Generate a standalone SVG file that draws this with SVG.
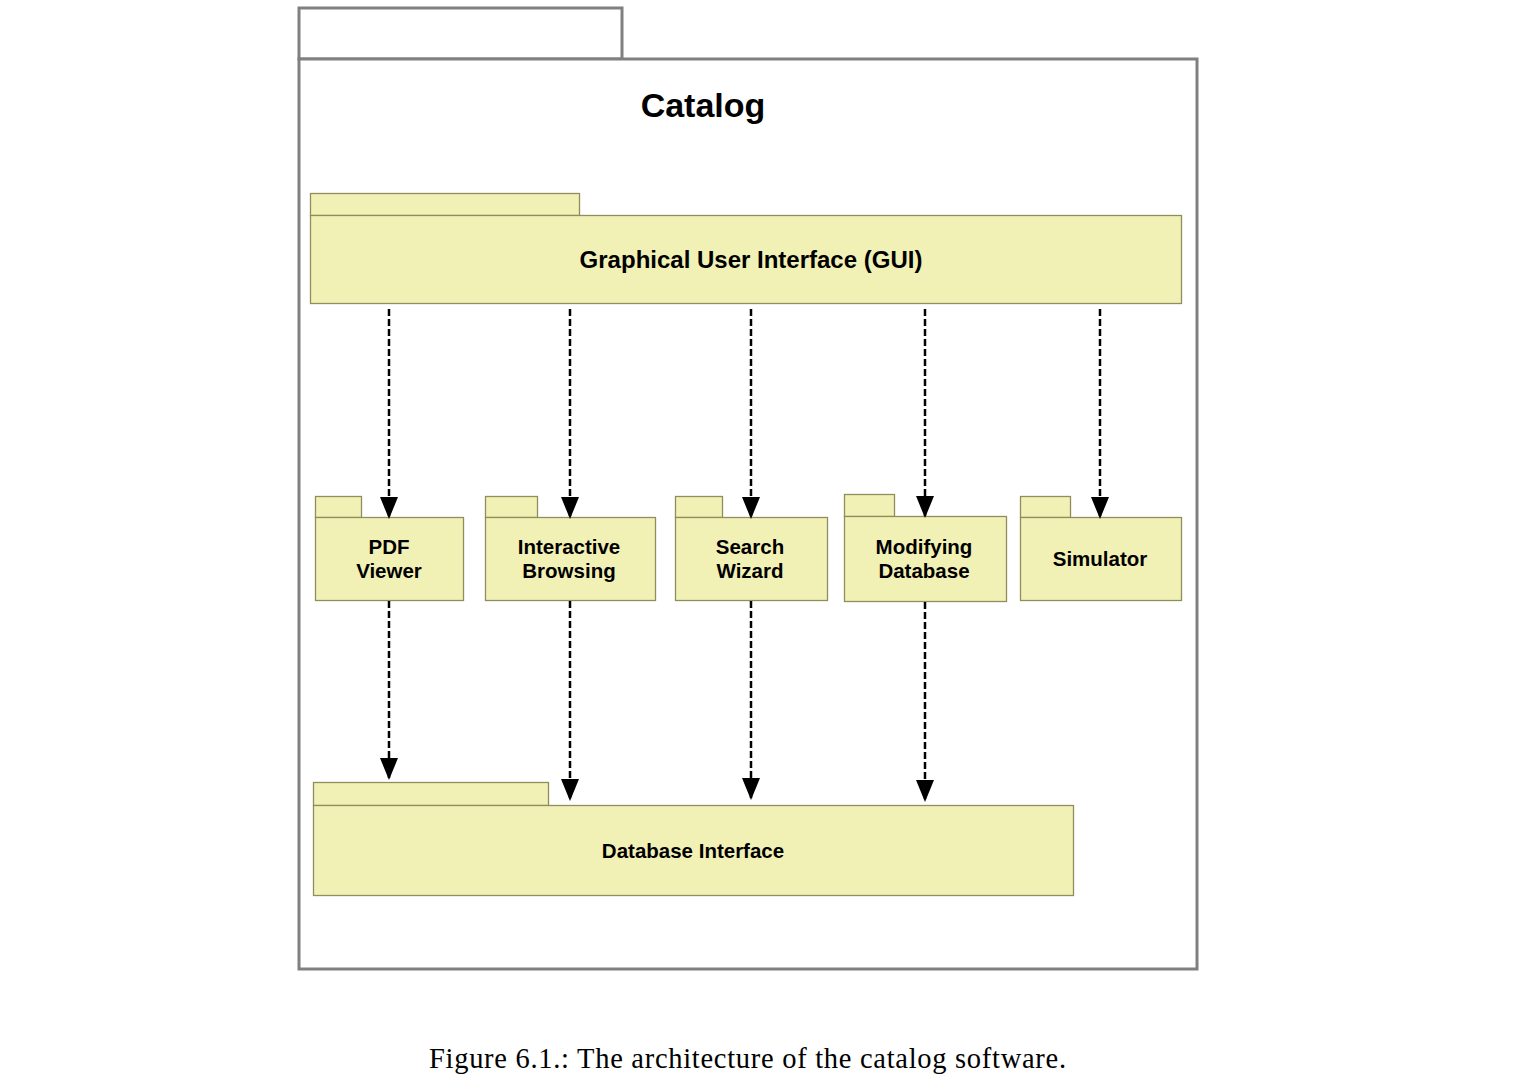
<svg xmlns="http://www.w3.org/2000/svg" width="1518" height="1092" viewBox="0 0 1518 1092">
<defs>
<style>
.frame{fill:#ffffff;stroke:#808080;stroke-width:3}
.pkg{fill:#f2f1b5;stroke:#8f8d5c;stroke-width:1.3}
.lbl{font-family:"Liberation Sans",Arial,sans-serif;font-weight:bold;fill:#000;text-anchor:middle}
.dep{stroke:#000;stroke-width:2.5;stroke-dasharray:7 3;fill:none;marker-end:url(#ah)}
</style>
<marker id="ah" markerUnits="userSpaceOnUse" markerWidth="22" markerHeight="18" viewBox="0 0 22 18" refX="22" refY="9" orient="auto">
<path d="M0,0 L22,9 L0,18 z" fill="#000"/>
</marker>
</defs>
<rect width="1518" height="1092" fill="#ffffff"/>
<g id="catalog">
<rect class="frame" x="299" y="8" width="323" height="51"/>
<rect class="frame" x="299" y="59" width="898" height="910"/>
<text class="lbl" x="703" y="117" font-size="34">Catalog</text>
</g>
<g id="gui">
<rect class="pkg" x="310.5" y="193.5" width="269" height="22"/>
<rect class="pkg" x="310.5" y="215.5" width="871" height="88"/>
<text class="lbl" x="751" y="268" font-size="24">Graphical User Interface (GUI)</text>
</g>
<g id="pdf-viewer">
<rect class="pkg" x="315.5" y="496.5" width="46" height="21"/>
<rect class="pkg" x="315.5" y="517.5" width="148" height="83"/>
<text class="lbl" x="389" y="554" font-size="20.5">PDF</text>
<text class="lbl" x="389" y="578" font-size="20.5">Viewer</text>
</g>
<g id="interactive-browsing">
<rect class="pkg" x="485.5" y="496.5" width="52" height="21"/>
<rect class="pkg" x="485.5" y="517.5" width="170" height="83"/>
<text class="lbl" x="569" y="554" font-size="20.5">Interactive</text>
<text class="lbl" x="569" y="578" font-size="20.5">Browsing</text>
</g>
<g id="search-wizard">
<rect class="pkg" x="675.5" y="496.5" width="47" height="21"/>
<rect class="pkg" x="675.5" y="517.5" width="152" height="83"/>
<text class="lbl" x="750" y="554" font-size="20.5">Search</text>
<text class="lbl" x="750" y="578" font-size="20.5">Wizard</text>
</g>
<g id="modifying-database">
<rect class="pkg" x="844.5" y="494.5" width="50" height="22"/>
<rect class="pkg" x="844.5" y="516.5" width="162" height="85"/>
<text class="lbl" x="924" y="554" font-size="20.5">Modifying</text>
<text class="lbl" x="924" y="578" font-size="20.5">Database</text>
</g>
<g id="simulator">
<rect class="pkg" x="1020.5" y="496.5" width="50" height="21"/>
<rect class="pkg" x="1020.5" y="517.5" width="161" height="83"/>
<text class="lbl" x="1100" y="566" font-size="20.5">Simulator</text>
</g>
<g id="database-interface">
<rect class="pkg" x="313.5" y="782.5" width="235" height="23"/>
<rect class="pkg" x="313.5" y="805.5" width="760" height="90"/>
<text class="lbl" x="693" y="858" font-size="20.5">Database Interface</text>
</g>
<g id="connectors">
<line class="dep" x1="389" y1="309" x2="389" y2="519"/>
<line class="dep" x1="570" y1="309" x2="570" y2="519"/>
<line class="dep" x1="751" y1="309" x2="751" y2="519"/>
<line class="dep" x1="925" y1="309" x2="925" y2="518"/>
<line class="dep" x1="1100" y1="309" x2="1100" y2="519"/>
<line class="dep" x1="389" y1="601" x2="389" y2="780"/>
<line class="dep" x1="570" y1="601" x2="570" y2="801"/>
<line class="dep" x1="751" y1="601" x2="751" y2="800"/>
<line class="dep" x1="925" y1="602" x2="925" y2="802"/>
</g>
<text x="747.5" y="1068" font-family="'Liberation Serif','Times New Roman',serif" font-size="28.5" text-anchor="middle" textLength="637" lengthAdjust="spacing" fill="#000">Figure 6.1.: The architecture of the catalog software.</text>
</svg>
